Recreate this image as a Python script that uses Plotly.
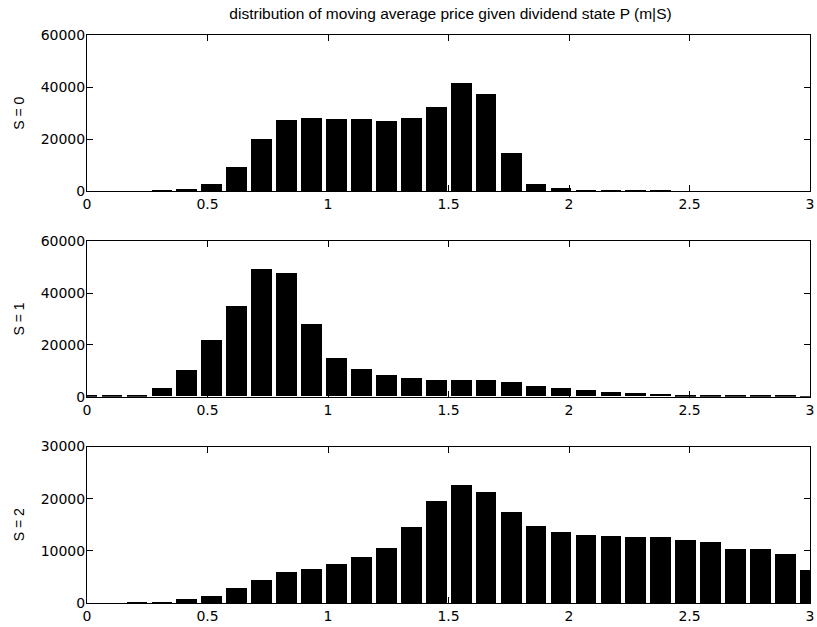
import plotly.graph_objects as go

# Histogram bin centres of the moving-average price m
bin_centers = [0.000, 0.104, 0.207, 0.311, 0.414, 0.518, 0.621, 0.725, 0.828, 0.932,
               1.035, 1.139, 1.242, 1.346, 1.449, 1.553, 1.656, 1.760, 1.863, 1.967,
               2.070, 2.174, 2.277, 2.381, 2.484, 2.588, 2.691, 2.795, 2.898, 3.002]

# Counts per bin for each dividend state S
counts_s0 = [0, 0, 100, 300, 800, 3000, 9400, 20200, 27300, 28200,
             27600, 27600, 27100, 28300, 32300, 41500, 37400, 14800, 3000, 1300,
             500, 400, 300, 300, 100, 50, 0, 0, 0, 0]
counts_s1 = [200, 200, 500, 3200, 10400, 21800, 34900, 49100, 47600, 27900,
             15000, 10600, 8400, 7000, 6400, 6400, 6200, 5500, 4000, 3100,
             2300, 1800, 1200, 1000, 700, 500, 400, 300, 200, 100]
counts_s2 = [0, 0, 100, 320, 770, 1500, 2900, 4500, 6000, 6700,
             7600, 8900, 10700, 14600, 19700, 22700, 21400, 17500, 14800, 13700,
             13200, 13000, 12800, 12700, 12100, 11700, 10400, 10400, 9400, 6400]

state_labels = ["S = 0", "S = 1", "S = 2"]
x_ticks = [0, 0.5, 1, 1.5, 2, 2.5, 3]
x_tick_text = ["0", "0.5", "1", "1.5", "2", "2.5", "3"]
y_ticks = [[0, 20000, 40000, 60000], [0, 20000, 40000, 60000], [0, 10000, 20000, 30000]]
y_ranges = [[0, 60000], [0, 60000], [0, 30000]]
title_text = "distribution of moving average price given dividend state P (m|S)"

W, H = 817, 627
L, R, T, B = 87, 3, 35, 22
plot_h = H - T - B
# vertical pixel extents (top, bottom) of each panel
panel_px = [(35, 192), (242, 398), (448, 605)]

tick_font = dict(family="DejaVu Sans, sans-serif", size=14, color="black")
text_font = "Liberation Sans, Arial, sans-serif"
fig = go.Figure()

series = [counts_s0, counts_s1, counts_s2]
for i, counts in enumerate(series):
    n = "" if i == 0 else str(i + 1)
    fig.add_trace(go.Bar(
        x=bin_centers, y=counts, width=0.086,
        marker=dict(color="black", line=dict(width=0)),
        xaxis="x" + n, yaxis="y" + n, showlegend=False,
    ))
    top, bot = panel_px[i]
    dom = [(H - B - bot) / plot_h, (H - B - top) / plot_h]
    axis_common = dict(
        showline=True, linecolor="black", linewidth=1, mirror="allticks",
        ticks="inside", ticklen=6, tickwidth=1, tickcolor="black",
        showgrid=False, zeroline=False, ticklabeloverflow="allow",
        tickfont=tick_font,
    )
    fig.update_layout(**{
        "xaxis" + n: dict(
            axis_common, range=[0, 3], tickvals=x_ticks, ticktext=x_tick_text,
            domain=[0, 1], anchor="y" + n,
        ),
        "yaxis" + n: dict(
            axis_common, range=y_ranges[i], tickvals=y_ticks[i], tickformat="d",
            domain=dom, anchor="x" + n, ticklabelstandoff=-2,
            title=dict(text=state_labels[i], standoff=12,
                       font=dict(family=text_font, size=14, color="black")),
        ),
    })

fig.update_layout(
    width=W, height=H,
    margin=dict(l=L, r=R, t=T, b=B),
    paper_bgcolor="white", plot_bgcolor="white",
    bargap=0,
    title=dict(text=title_text, x=(L + (W - R)) / 2 / W, xanchor="center",
               y=1 - 14 / H, yanchor="middle",
               font=dict(family=text_font, size=15.5, color="black")),
)

fig.write_html("out.html")
